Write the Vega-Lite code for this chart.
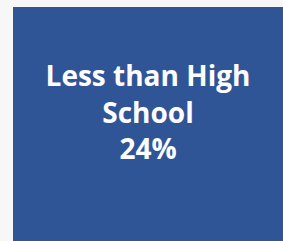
{
  "$schema": "https://vega.github.io/schema/vega-lite/v6.json",
  "autosize": "none",
  "width": 270,
  "height": 234,
  "padding": {"left": 13, "top": 7, "right": 0, "bottom": 0},
  "background": "#f7f7f7",
  "config": {"view": {"stroke": null}},
  "data": {"values": [{"category": "Less than High School", "lines": ["Less than High", "School", "24%"], "share": 24}]},
  "layer": [
    {"mark": {"type": "rect", "color": "#2F5597"}, "encoding": {}},
    {"mark": {"type": "text", "font": "Open Sans", "fontWeight": "bold", "fontSize": 28, "lineHeight": 36.5, "color": "white", "align": "center", "baseline": "middle", "dy": -46},
     "encoding": {"text": {"field": "lines"}}}
  ]
}
